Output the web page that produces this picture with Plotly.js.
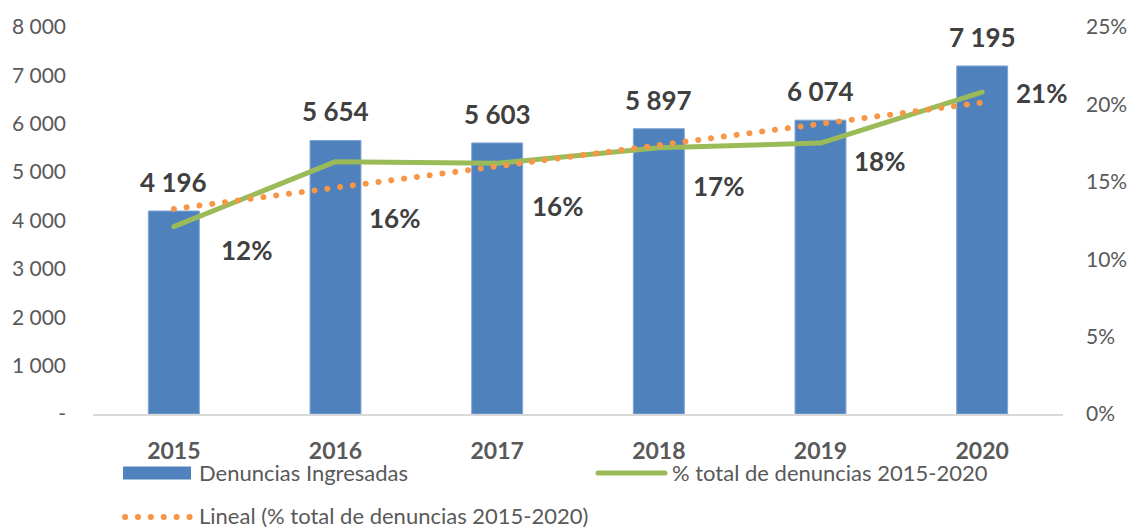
<!DOCTYPE html>
<html>
<head>
<meta charset="utf-8">
<script src="https://cdn.plot.ly/plotly-3.0.1.min.js"></script>
<style>
  html, body { margin: 0; padding: 0; background: #fff; }
  #chart { width: 1130px; height: 527px; }
  /* rounded ends for the solid line and round dots for the dotted trend */
  .scatterlayer .js-line, .shapelayer path { stroke-linecap: round; stroke-linejoin: round; }
</style>
</head>
<body>
<div id="chart"></div>
<script>
// Denuncias ingresadas por año y su participación en el total 2015-2020
const years = ['2015', '2016', '2017', '2018', '2019', '2020'];
const denuncias = [4196, 5654, 5603, 5897, 6074, 7195];
const pctTotal = [0.121, 0.163, 0.162, 0.172, 0.175, 0.208];
const leftTickVals = [0, 1000, 2000, 3000, 4000, 5000, 6000, 7000, 8000];
const rightTickVals = [0, 0.05, 0.10, 0.15, 0.20, 0.25];

const seriesNames = ['Denuncias Ingresadas', '% total de denuncias 2015-2020', 'Lineal (% total de denuncias 2015-2020)'];

// label placement (pixel offsets right / down from each point of the % line)
const pctLabelOffsets = [[73, 23], [59, 56], [60, 43], [60, 38], [59, 18], [59, 1]];

const FONT = 'Lato, "Open Sans", sans-serif';
const BLUE = '#4F81BD', GREEN = '#9BBB59', ORANGE = '#F79646';
const GREY_TXT = '#595959', DARK_TXT = '#404040';

// plot area in pixels
const L = 93, R = 1063, T = 27, B = 414;
const px = x => (x - L) / (R - L);
const py = y => (B - y) / (B - T);

function thousands(v) {
  return v === 0 ? '-' : String(v).replace(/\B(?=(\d{3})+(?!\d))/g, ' ');
}

// least-squares linear trend of the percentage series
function linearTrend(vals) {
  const n = vals.length;
  const xs = vals.map((_, i) => i);
  const mx = xs.reduce((a, b) => a + b, 0) / n;
  const my = vals.reduce((a, b) => a + b, 0) / n;
  let sxy = 0, sxx = 0;
  xs.forEach((x, i) => { sxy += (x - mx) * (vals[i] - my); sxx += (x - mx) * (x - mx); });
  const slope = sxy / sxx;
  return xs.map(x => my + slope * (x - mx));
}
const trend = linearTrend(pctTotal);

const traces = [
  {
    type: 'bar', name: seriesNames[0], x: years, y: denuncias,
    marker: { color: BLUE, line: { color: '#7FA5D6', width: 1 } },
    hoverinfo: 'x+y'
  },
  {
    type: 'scatter', mode: 'lines', name: seriesNames[1], x: years, y: pctTotal, yaxis: 'y2',
    line: { color: GREEN, width: 5 }
  },
  {
    type: 'scatter', mode: 'lines', name: seriesNames[2], x: years, y: trend, yaxis: 'y2',
    line: { color: ORANGE, width: 6, dash: '0.1px,12.8px' }
  }
];

// on a category axis annotations take the category's serial index
const annotations = [];
const labelFont = { family: FONT, size: 26, color: DARK_TXT, weight: 'bold' };
years.forEach((yr, i) => {
  annotations.push({
    x: i, y: denuncias[i], xref: 'x', yref: 'y', text: thousands(denuncias[i]),
    showarrow: false, xanchor: 'center', yanchor: 'bottom', yshift: 11,
    font: labelFont
  });
  annotations.push({
    x: i, y: pctTotal[i], xref: 'x', yref: 'y2', text: Math.round(pctTotal[i] * 100) + '%',
    showarrow: false, xanchor: 'center', yanchor: 'middle',
    xshift: pctLabelOffsets[i][0], yshift: -pctLabelOffsets[i][1],
    font: labelFont
  });
});

// legend texts
const legendFont = { family: FONT, size: 22, color: GREY_TXT };
[[197, 472, seriesNames[0]], [670, 472, seriesNames[1]], [197, 515, seriesNames[2]]].forEach(d => {
  annotations.push({
    xref: 'paper', yref: 'paper', x: px(d[0]), y: py(d[1]), text: d[2],
    showarrow: false, xanchor: 'left', yanchor: 'middle', font: legendFont
  });
});

// legend symbols
const shapes = [
  { type: 'rect', xref: 'paper', yref: 'paper', x0: px(123), x1: px(191), y0: py(479.5), y1: py(466.5),
    fillcolor: BLUE, line: { width: 0 } },
  { type: 'line', xref: 'paper', yref: 'paper', x0: px(598), x1: px(665), y0: py(473), y1: py(473),
    line: { color: GREEN, width: 5 } },
  { type: 'line', xref: 'paper', yref: 'paper', x0: px(125), x1: px(190), y0: py(517), y1: py(517),
    line: { color: ORANGE, width: 6, dash: '0.1px,12.8px' } }
];

const layout = {
  width: 1130, height: 527,
  margin: { l: L, r: 1130 - R, t: T, b: 527 - B, pad: 0 },
  paper_bgcolor: '#fff', plot_bgcolor: '#fff',
  showlegend: false,
  bargap: 0.685,
  font: { family: FONT, color: GREY_TXT },
  xaxis: {
    type: 'category', range: [-0.5, years.length - 0.5], showgrid: false, zeroline: false,
    showline: true, linecolor: '#D9D9D9', linewidth: 2, ticks: '',
    tickfont: { family: FONT, size: 23, color: GREY_TXT, weight: 'bold' },
    ticklabelstandoff: 15
  },
  yaxis: {
    range: [0, 8000], tickvals: leftTickVals, ticktext: leftTickVals.map(thousands),
    showgrid: false, zeroline: false, showline: false, ticks: '',
    tickfont: { family: FONT, size: 21, color: GREY_TXT },
    ticklabelstandoff: 26
  },
  yaxis2: {
    overlaying: 'y', side: 'right', range: [0, 0.25], tickvals: rightTickVals, tickformat: '.0%',
    showgrid: false, zeroline: false, showline: false, ticks: '',
    tickfont: { family: FONT, size: 21, color: GREY_TXT },
    ticklabelstandoff: 22
  },
  annotations: annotations,
  shapes: shapes
};

Plotly.newPlot('chart', traces, layout, { staticPlot: true, displayModeBar: false });
</script>
</body>
</html>
